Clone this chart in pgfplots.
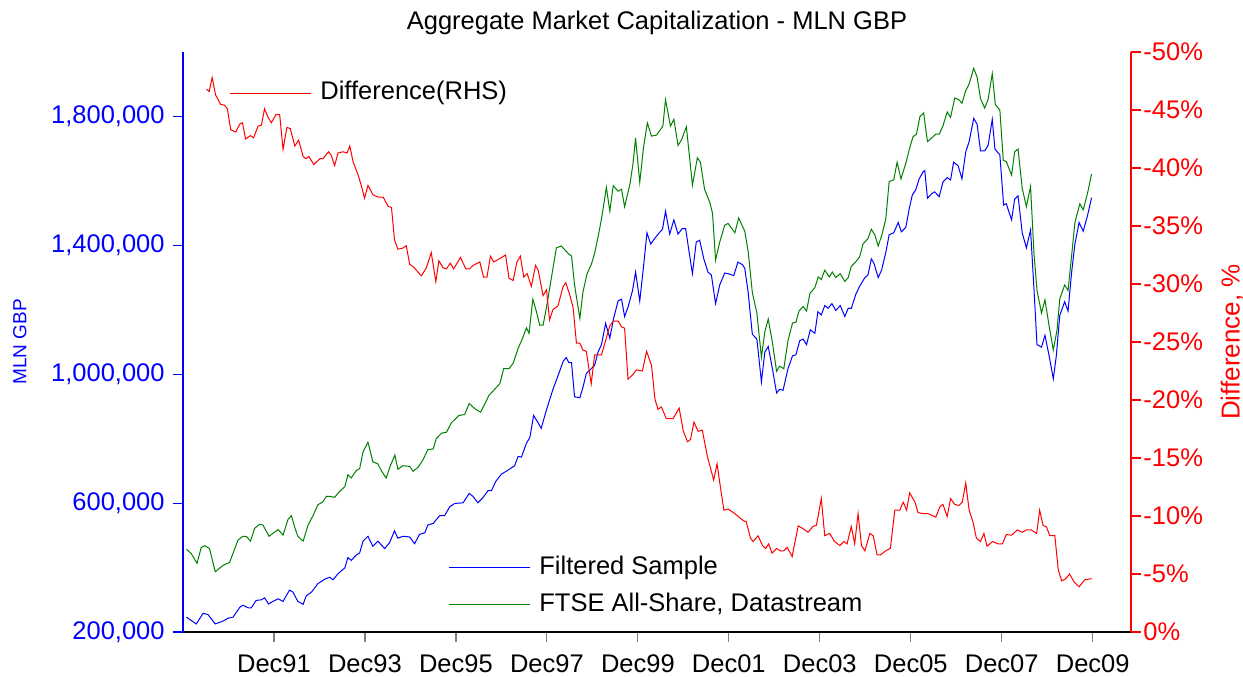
\documentclass[border=0pt]{standalone}
\usepackage{pgfplots}
\pgfplotsset{compat=1.18}
\usepackage{fontspec}
\setmainfont{Liberation Sans}
\definecolor{fgreen}{RGB}{0,128,0}
\newcommand\fs{\fontsize{12.75}{15}\selectfont}
\begin{document}
\begin{tikzpicture}
\path[use as bounding box] (-91.5pt,-22pt) rectangle (530pt,316pt);
\begin{axis}[
  at={(0pt,0pt)}, anchor=south west,
  scale only axis, width=474pt, height=290pt,
  xmin=0, xmax=250.1, ymin=200000, ymax=2000000,
  axis x line*=bottom, axis y line*=left,
  x axis line style={black, line width=0.75pt},
  y axis line style={blue, line width=0.75pt},
  tick align=outside, major tick length=5pt,
  xtick={24,48,...,240},
  xticklabels={Dec91,Dec93,Dec95,Dec97,Dec99,Dec01,Dec03,Dec05,Dec07,Dec09},
  xtick style={gray, line width=0.6pt},
  ytick style={blue, line width=0.6pt},
  ytick={200000,600000,1000000,1400000,1800000},
  yticklabels={{200,000},{600,000},{1,000,000},{1,400,000},{1,800,000}},
  scaled y ticks=false,
  yticklabel style={font=\fs, text=blue, inner sep=0pt, anchor=east, xshift=-4pt},
  xticklabel style={font=\fs, text=black, inner sep=0pt, anchor=north, yshift=-6pt},
  ylabel={MLN GBP},
  ylabel style={font=\fontsize{9.5}{11}\selectfont, text=blue, at={(axis description cs:-0.172,0.5)}, anchor=center},
  title={Aggregate Market Capitalization - MLN GBP},
  title style={font=\fs, at={(axis description cs:0.5,1.0293)}, anchor=center},
  legend style={draw=none, fill=none, at={(axis description cs:0.2795,0.0793)}, anchor=west,
    font=\fs, inner sep=0pt, row sep=5pt, column sep=3.5pt,
    nodes={inner sep=1pt, text height=9pt, text depth=2.5pt}},
  legend cell align=left,
  legend image code/.code={\draw[#1] (0pt,0pt) -- (40.5pt,0pt);},
  every axis plot/.append style={line width=0.5pt},
]
\addplot[blue] coordinates {
(0.9,246000) (3.5,225000) (5.3,258000) (6.6,254000) (8.5,225000) (10.6,234000) (11.9,243000) (13.2,246000) (15.0,277000) (15.8,283000) (17.2,275000) (18.0,275000) (19.3,298000) (20.7,300000) (21.5,306000) (22.6,287000) (23.7,295000) (25.1,303000) (26.4,295000) (28.1,330000) (29.0,324000) (30.3,295000) (31.7,286000) (32.5,312000) (33.9,324000) (35.6,350000) (37.4,364000) (38.7,370000) (39.6,362000) (40.9,381000) (42.7,399000) (43.5,431000) (44.4,422000) (45.7,439000) (46.6,445000) (47.5,482000) (48.8,497000) (50.1,466000)
(51.4,482000) (53.2,459000) (54.5,477000) (55.8,514000) (56.7,491000) (58.0,497000) (59.8,495000) (61.1,474000) (62.4,503000) (63.8,508000) (64.6,532000) (66.0,537000) (67.7,561000) (69.0,561000) (70.4,589000) (71.7,599000) (73.9,601000) (75.5,630000) (76.5,621000) (77.8,601000) (79.2,618000) (80.5,639000) (81.4,639000) (82.5,667000) (84.0,690000) (85.3,699000) (87.5,716000) (88.4,745000) (89.3,743000) (90.6,786000) (91.5,803000) (92.5,872000) (93.7,849000) (94.5,832000) (95.9,890000) (97.6,953000) (98.9,994000) (100.3,1040000)
(101.1,1052000) (101.8,1036000) (102.5,1036000) (103.3,930000) (104.7,927000) (105.5,959000) (106.4,1002000) (107.7,1017000) (108.6,1028000) (109.5,1069000) (110.4,1092000) (111.5,1158000) (112.6,1112000) (113.6,1173000) (114.8,1228000) (115.7,1233000) (116.5,1179000) (117.4,1208000) (118.6,1260000) (119.4,1317000) (120.5,1227000) (121.5,1335000) (122.4,1439000) (123.4,1404000) (124.4,1421000) (125.8,1441000) (126.5,1450000) (127.3,1506000) (128.4,1435000) (129.5,1479000) (130.6,1435000) (131.7,1452000) (132.6,1452000) (133.5,1381000) (134.4,1312000) (135.4,1410000) (136.3,1416000) (137.4,1358000) (138.5,1317000) (139.4,1308000) (140.5,1219000) (141.6,1277000) (142.9,1314000) (143.8,1312000) (145.3,1306000) (146.4,1348000) (147.6,1340000) (148.2,1329000) (149.1,1254000) (150.2,1124000)
(151.4,1109000) (152.6,976000) (153.5,1069000) (154.4,1086000) (155.5,1017000) (156.6,942000) (157.4,953000) (158.3,950000) (159.6,1017000) (160.8,1057000) (161.7,1060000) (162.7,1104000) (163.6,1109000) (164.5,1092000) (165.5,1138000) (166.7,1127000) (167.5,1194000) (168.4,1184000) (169.3,1213000) (170.2,1205000) (171.2,1219000) (172.2,1198000) (173.4,1213000) (174.6,1179000) (175.5,1205000) (176.3,1204000) (177.5,1248000) (178.5,1273000) (179.9,1300000) (180.7,1308000) (181.6,1358000) (182.3,1344000) (183.4,1300000) (184.3,1323000) (185.4,1377000) (186.3,1433000) (187.5,1439000) (188.7,1471000) (189.5,1442000) (190.7,1456000) (191.6,1514000) (192.4,1556000) (193.3,1572000) (194.2,1606000) (195.3,1629000) (195.7,1632000) (196.4,1546000) (197.5,1560000) (198.3,1566000) (199.5,1551000) (200.5,1597000)
(201.6,1610000) (202.5,1603000) (203.3,1658000) (204.5,1647000) (205.5,1606000) (206.5,1690000) (207.4,1722000) (208.6,1794000) (209.5,1776000) (210.4,1693000) (211.5,1693000) (212.4,1710000) (213.5,1791000) (214.2,1699000) (215.5,1681000) (216.5,1525000) (217.2,1529000) (218.6,1479000) (219.4,1543000) (220.3,1554000) (221.4,1439000) (222.5,1392000) (223.6,1448000) (224.5,1265000) (225.3,1092000) (226.5,1084000) (227.4,1121000) (228.5,1057000) (229.6,986000) (230.4,1057000) (231.3,1182000) (232.6,1225000) (233.5,1196000) (234.4,1312000) (235.3,1404000) (236.4,1471000) (237.5,1444000) (238.6,1491000) (239.7,1548000)
};
\addlegendentry{Filtered Sample}
\addplot[fgreen] coordinates {
(0.9,457000) (2.2,443000) (3.7,413000) (4.8,462000) (5.7,468000) (7.0,459000) (8.5,387000) (10.6,407000) (12.3,416000) (14.5,485000) (15.8,497000) (16.7,497000) (17.8,482000) (18.9,522000) (20.2,534000) (21.1,532000) (22.7,497000) (23.7,506000) (25.1,518000) (26.4,501000) (27.7,549000) (28.6,561000) (29.5,524000) (30.3,497000) (31.7,482000) (33.0,532000) (34.3,561000) (35.6,595000) (36.9,604000) (37.8,621000) (38.7,621000) (40.0,618000) (41.3,636000) (42.7,651000) (43.5,688000) (44.4,678000) (45.7,701000) (46.6,707000) (47.5,759000) (48.8,789000) (50.1,728000)
(51.4,722000) (52.3,701000) (53.6,678000) (54.7,716000) (55.9,749000) (56.7,705000) (58.0,716000) (59.8,714000) (60.7,699000) (62.0,711000) (63.3,734000) (64.6,766000) (66.0,768000) (66.8,800000) (68.2,817000) (69.5,820000) (70.8,849000) (72.8,872000) (74.3,875000) (75.5,909000) (77.0,893000) (78.5,882000) (79.6,907000) (80.7,934000) (82.2,953000) (83.6,971000) (84.6,1017000) (86.0,1017000) (87.1,1034000) (88.4,1080000) (89.5,1109000) (90.6,1144000) (91.3,1127000) (92.3,1233000) (93.2,1196000) (94.1,1152000) (95.0,1152000) (95.9,1208000) (97.2,1300000) (98.5,1392000) (99.8,1398000)
(101.6,1375000) (102.5,1367000) (103.3,1277000) (104.7,1173000) (105.5,1254000) (106.6,1312000) (107.7,1340000) (108.6,1375000) (109.8,1444000) (110.6,1496000) (111.7,1580000) (112.6,1506000) (113.5,1585000) (114.8,1568000) (115.7,1574000) (116.5,1520000) (117.9,1589000) (118.7,1652000) (119.4,1733000) (120.5,1595000) (121.5,1704000) (122.5,1780000) (123.6,1739000) (124.9,1742000) (126.0,1760000) (126.6,1770000) (127.3,1852000) (128.6,1770000) (129.5,1791000) (130.6,1710000) (131.5,1727000) (132.8,1768000) (134.4,1587000) (135.7,1672000) (136.5,1658000) (137.6,1574000) (139.0,1533000) (139.7,1499000) (140.5,1354000) (141.6,1410000) (142.9,1462000) (143.8,1468000) (145.6,1439000) (146.6,1485000) (148.2,1444000) (149.1,1381000) (150.2,1254000)
(151.4,1190000) (152.6,1052000) (153.5,1132000) (154.4,1171000) (155.5,1098000) (156.6,1009000) (157.4,1025000) (158.5,1017000) (159.6,1104000) (160.8,1159000) (161.7,1161000) (162.5,1196000) (163.6,1210000) (164.5,1196000) (165.4,1251000) (166.7,1269000) (167.6,1302000) (168.4,1294000) (169.3,1323000) (170.5,1302000) (171.3,1317000) (172.2,1300000) (173.4,1312000) (174.6,1288000) (175.5,1300000) (176.3,1335000) (177.5,1349000) (178.5,1364000) (179.4,1404000) (180.7,1421000) (181.6,1450000) (182.5,1433000) (183.4,1398000) (184.3,1429000) (185.4,1481000) (186.3,1598000) (187.5,1603000) (188.4,1658000) (189.4,1606000) (190.7,1655000) (191.7,1702000) (192.6,1737000) (193.5,1745000) (194.4,1799000) (195.4,1811000) (196.4,1722000) (197.5,1733000) (198.6,1745000) (199.5,1745000) (200.5,1771000)
(201.6,1814000) (202.5,1797000) (203.6,1857000) (204.7,1852000) (205.5,1841000) (206.5,1880000) (207.4,1901000) (208.6,1949000) (209.5,1922000) (210.4,1855000) (211.5,1826000) (212.4,1852000) (213.5,1933000) (214.3,1837000) (215.5,1820000) (216.4,1664000) (217.2,1660000) (218.6,1618000) (219.4,1690000) (220.3,1699000) (221.4,1577000) (222.5,1520000) (223.6,1583000) (224.5,1375000) (225.3,1260000) (226.5,1190000) (227.4,1231000) (228.5,1150000) (229.6,1075000) (230.6,1138000) (231.3,1233000) (232.6,1277000) (233.5,1260000) (234.4,1364000) (235.3,1471000) (236.6,1529000) (237.5,1510000) (238.6,1560000) (239.7,1621000)
};
\addlegendentry{FTSE All-Share, Datastream}
\end{axis}
\begin{axis}[
  at={(0pt,0pt)}, anchor=south west,
  scale only axis, width=474pt, height=290pt,
  xmin=0, xmax=250.1, ymin=-50, ymax=0, y dir=reverse,
  axis x line=none, axis y line*=right,
  y axis line style={red, line width=0.75pt},
  tick align=outside, major tick length=5pt,
  ytick style={red, line width=0.6pt},
  ytick={-50,-45,...,0},
  yticklabels={-50\%,-45\%,-40\%,-35\%,-30\%,-25\%,-20\%,-15\%,-10\%,-5\%,0\%},
  yticklabel style={font=\fs, text=red, inner sep=0pt, anchor=west, xshift=1pt},
  ylabel={Difference, \%},
  ylabel style={font=\fontsize{13}{15}\selectfont, text=red, at={(axis description cs:1.1065,0.5)}, anchor=center},
  legend style={draw=none, fill=none, at={(axis description cs:0.0485,0.9293)}, anchor=west,
    font=\fs, inner sep=0pt, column sep=3.5pt,
    nodes={inner sep=1pt, text height=9pt, text depth=2.5pt}},
  legend cell align=left,
  legend image code/.code={\draw[#1] (0pt,0pt) -- (40.5pt,0pt);},
  every axis plot/.append style={line width=0.5pt},
]
\addplot[red] coordinates {
(6.2,-46.8) (6.9,-46.6) (7.7,-47.8) (8.6,-46.3) (9.9,-45.5) (11.0,-45.4) (11.7,-45.1) (12.6,-43.3) (13.9,-43.1) (15.0,-43.8) (15.7,-43.9) (16.5,-42.5) (17.8,-42.8) (18.6,-42.6) (19.8,-43.6) (20.7,-43.7) (21.5,-45.1) (22.4,-44.4) (23.3,-43.9) (24.5,-44.6) (25.5,-44.6) (26.4,-41.6) (27.4,-43.5) (28.3,-43.4) (29.5,-41.9) (30.5,-42.4) (31.7,-41.0) (32.4,-40.8) (33.2,-41.0) (34.5,-40.3) (36.1,-40.8) (36.9,-40.8) (38.4,-41.4) (39.1,-41.1) (40.0,-40.2) (40.9,-41.3) (42.2,-41.4) (43.3,-41.3) (44.0,-41.9) (44.9,-40.5) (46.2,-39.4) (47.2,-38.3) (47.9,-37.4) (48.8,-38.5) (50.1,-37.7)
(51.4,-37.5) (52.8,-37.5) (54.1,-36.7) (55.0,-36.6) (55.8,-33.8) (56.7,-33.0) (58.0,-33.1) (58.9,-33.3) (59.8,-31.7) (60.7,-31.5) (62.9,-30.7) (64.2,-31.4) (65.5,-32.7) (66.7,-30.2) (67.5,-32.0) (68.6,-31.4) (69.5,-31.3) (70.5,-31.8) (71.4,-31.3) (73.2,-32.3) (74.6,-31.3) (75.6,-31.3) (76.5,-31.6) (78.3,-31.9) (79.3,-30.6) (80.2,-30.6) (81.1,-32.4) (82.0,-31.9) (83.6,-32.2) (85.1,-32.5) (86.0,-30.5) (87.1,-30.3) (88.1,-31.9) (89.0,-32.4) (89.9,-30.6) (90.8,-30.9) (91.9,-29.8) (93.0,-31.6) (93.7,-31.2) (95.0,-29.0) (95.9,-29.5) (96.7,-26.9) (97.6,-27.8) (98.9,-28.1) (100.3,-29.8)
(101.0,-30.1) (102.0,-29.1) (102.9,-28.0) (103.8,-24.9) (104.7,-24.9) (105.5,-24.3) (106.4,-24.2) (107.7,-21.4) (108.6,-23.9) (110.4,-23.9) (111.3,-24.9) (112.6,-26.4) (113.5,-26.8) (114.8,-26.8) (115.7,-26.3) (116.5,-26.2) (117.4,-21.8) (118.7,-22.2) (119.6,-22.6) (121.2,-22.5) (122.3,-24.2) (123.6,-23.0) (124.5,-20.1) (125.3,-19.2) (126.2,-19.4) (127.5,-18.4) (129.3,-18.4) (130.9,-19.3) (132.0,-17.3) (133.1,-16.4) (133.9,-16.6) (134.8,-18.1) (135.9,-17.3) (137.0,-17.4) (138.3,-15.2) (140.0,-13.1) (140.9,-14.5) (141.6,-12.9) (142.7,-10.5) (143.8,-10.6) (145.6,-10.2) (146.7,-9.9) (147.8,-9.6) (148.6,-9.5) (149.7,-8.1) (150.4,-7.8)
(151.7,-8.3) (152.9,-7.45) (153.7,-7.2) (154.5,-7.6) (155.4,-6.8) (156.6,-7.2) (157.6,-7.0) (158.5,-7.0) (159.4,-7.3) (160.7,-6.5) (162.3,-9.15) (163.6,-8.9) (164.9,-8.6) (166.2,-9.1) (167.1,-9.2) (168.4,-11.5) (169.3,-8.3) (170.6,-8.5) (171.9,-7.8) (173.3,-7.45) (174.3,-7.8) (175.2,-7.6) (176.3,-9.1) (177.2,-7.6) (178.1,-10.2) (179.0,-7.45) (179.9,-7.0) (181.2,-8.5) (182.1,-8.3) (183.1,-6.65) (184.0,-6.65) (185.4,-7.0) (186.6,-7.2) (187.8,-10.5) (189.1,-10.5) (190.0,-11.2) (190.9,-10.5) (191.7,-12.0) (193.1,-11.2) (193.9,-10.3) (195.3,-10.2) (196.6,-10.2) (197.9,-10.0) (198.6,-9.9) (199.7,-10.8) (200.5,-11.0)
(201.6,-9.95) (202.5,-11.5) (203.6,-11.0) (204.7,-10.9) (205.6,-11.2) (206.5,-12.85) (207.4,-10.5) (208.4,-9.5) (209.3,-8.1) (210.4,-7.8) (211.3,-8.5) (212.1,-7.4) (213.6,-7.8) (215.0,-7.6) (216.2,-7.6) (217.2,-8.4) (218.6,-8.35) (220.1,-8.8) (221.4,-8.6) (222.5,-8.8) (223.8,-8.8) (225.2,-8.5) (226.0,-10.5) (226.9,-9.2) (227.8,-9.05) (228.7,-8.3) (230.0,-8.3) (230.9,-5.4) (231.8,-4.4) (232.9,-4.6) (233.9,-5.0) (235.1,-4.3) (236.4,-3.9) (237.9,-4.5) (239.7,-4.6)
};
\addlegendentry{Difference(RHS)}
\end{axis}
\end{tikzpicture}
\end{document}
